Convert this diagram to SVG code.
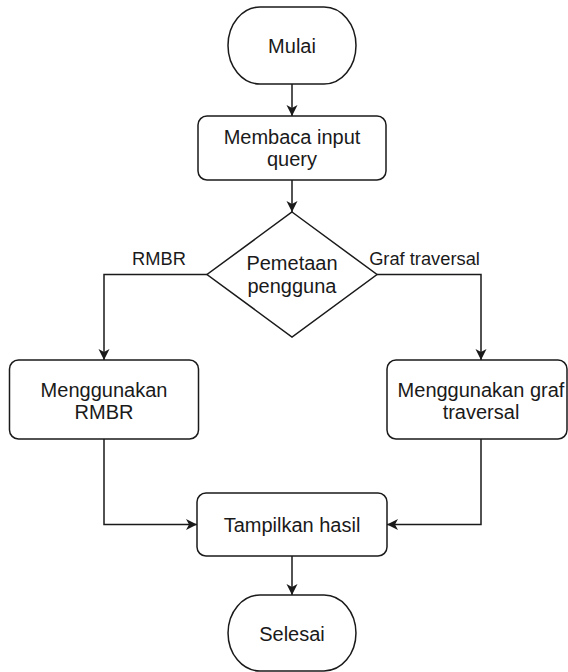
<svg xmlns="http://www.w3.org/2000/svg" width="568" height="672" viewBox="0 0 568 672">
  <style>
    .shape { fill: #ffffff; stroke: #1a1a1a; stroke-width: 1.5; }
    .edge { fill: none; stroke: #1a1a1a; stroke-width: 1.5; }
    .label { font-family: "Liberation Sans", Arial, sans-serif; font-size: 20px; fill: #1a1a1a; text-anchor: middle; }
    .edge-label { font-family: "Liberation Sans", Arial, sans-serif; font-size: 18.3px; fill: #1a1a1a; text-anchor: middle; }
  </style>
  <defs>
    <marker id="arrow" viewBox="-12 -7 13 14" refX="0" refY="0" markerWidth="13" markerHeight="14" markerUnits="userSpaceOnUse" orient="auto">
      <path d="M0,0 L-11,-5.5 L-8,0 L-11,5.5 Z" fill="#1a1a1a"/>
    </marker>
  </defs>
  <rect width="568" height="672" fill="#ffffff"/>

  <!-- connectors -->
  <g id="connectors">
    <path class="edge" d="M292,84 V116" marker-end="url(#arrow)"/>
    <path class="edge" d="M292,180 V212" marker-end="url(#arrow)"/>
    <path class="edge" d="M207,274.5 H104 V360" marker-end="url(#arrow)"/>
    <path class="edge" d="M377,274.5 H481 V360" marker-end="url(#arrow)"/>
    <path class="edge" d="M104,439 V524.5 H197" marker-end="url(#arrow)"/>
    <path class="edge" d="M481,439 V524.5 H387" marker-end="url(#arrow)"/>
    <path class="edge" d="M292,556 V595" marker-end="url(#arrow)"/>
    <text class="edge-label" x="159" y="265">RMBR</text>
    <text class="edge-label" x="424.5" y="265">Graf traversal</text>
  </g>

  <!-- start -->
  <g id="mulai">
    <path class="shape" d="M260,7 H324 A32,38.5 0 0 1 324,84 H260 A32,38.5 0 0 1 260,7 Z"/>
    <text class="label" x="292" y="53">Mulai</text>
  </g>

  <g id="membaca-input">
    <rect class="shape" x="198" y="116" width="188" height="64" rx="9"/>
    <text class="label" x="292" y="144">Membaca input</text>
    <text class="label" x="292" y="166">query</text>
  </g>

  <g id="pemetaan">
    <polygon class="shape" points="292,212 377,274.5 292,337 207,274.5"/>
    <text class="label" x="292" y="270">Pemetaan</text>
    <text class="label" x="292" y="293">pengguna</text>
  </g>

  <g id="rmbr">
    <rect class="shape" x="9.5" y="360" width="189" height="79" rx="9"/>
    <text class="label" x="104" y="397">Menggunakan</text>
    <text class="label" x="104" y="419">RMBR</text>
  </g>

  <g id="graf-traversal">
    <rect class="shape" x="387" y="360" width="180" height="79" rx="9"/>
    <text class="label" x="481" y="397">Menggunakan graf</text>
    <text class="label" x="481" y="419">traversal</text>
  </g>

  <g id="tampilkan">
    <rect class="shape" x="197" y="493" width="190" height="63" rx="9"/>
    <text class="label" x="292" y="532">Tampilkan hasil</text>
  </g>

  <!-- end -->
  <g id="selesai">
    <path class="shape" d="M260,595 H324 A32,38 0 0 1 324,671 H260 A32,38 0 0 1 260,595 Z"/>
    <text class="label" x="292" y="641">Selesai</text>
  </g>
</svg>
